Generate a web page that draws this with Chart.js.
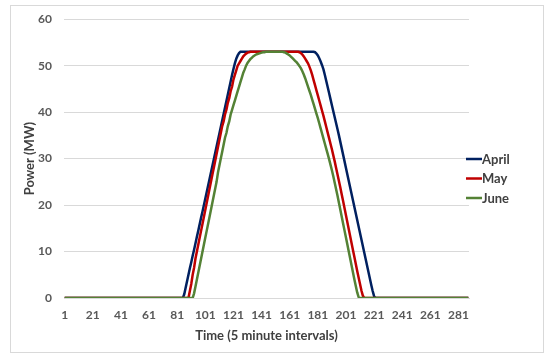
<!DOCTYPE html>
<html>
<head>
<meta charset="utf-8">
<script src="https://cdn.jsdelivr.net/npm/chart.js@4/dist/chart.umd.min.js"></script>
<style>
  html, body { margin: 0; padding: 0; background: #ffffff; }
  #frame { position: absolute; left: 10px; top: 5px; width: 532px; height: 346px; border: 1px solid #d9d9d9; }
  #grafico { position: absolute; left: 0; top: 0; }
</style>
</head>
<body>
<div id="frame"></div>
<canvas id="grafico" width="550" height="361"></canvas>
<script>
// --- DADOS ---
const seriesNames = ['April', 'May', 'June'];
const seriesColors = ['#002060', '#C00000', '#548235'];
const tickLabels = [1, 21, 41, 61, 81, 101, 121, 141, 161, 181, 201, 221, 241, 261, 281];

// intervalos de 5 minutos (1..288)
const intervals = [];
for (let i = 1; i <= 288; i++) intervals.push(i);

const april = [
  0,0,0,0,0,0,0,0,0,0, 0,0,0,0,0,0,0,0,0,0,
  0,0,0,0,0,0,0,0,0,0, 0,0,0,0,0,0,0,0,0,0,
  0,0,0,0,0,0,0,0,0,0, 0,0,0,0,0,0,0,0,0,0,
  0,0,0,0,0,0,0,0,0,0, 0,0,0,0,0,0,0,0,0,0,
  0,0,0,0,0,
  0.8, 2.2, 3.6, 5, 6.4, 7.7, 9.1, 10.4, 11.8, 13.2, 14.5, 15.9, 17.3, 18.6, 20, 21.4, 22.8, 24.2, 25.6, 27,
  28.4, 29.8, 31.2, 32.6, 34, 35.4, 36.8, 38.2, 39.6, 41, 42.4, 43.8, 45.2, 46.6, 48, 49.3, 50.5, 51.5, 52.2, 52.7,
  53,53,53,53,53,53,53,53,53,53, 53,53,53,53,53,53,53,53,53,53,
  53,53,53,53,53,53,53,53,53,53, 53,53,53,53,53,53,53,53,53,53,
  53,53,53,53,53,53,53,53,53,53, 53,53,53,
  52.9, 52.6, 52.2, 51.6, 50.9, 50.1, 49.2, 48, 46.7, 45.4, 44.1, 42.8, 41.5, 40.2, 38.9, 37.6, 36.3, 35, 33.6, 32.2,
  30.8, 29.4, 28, 26.6, 25.2, 23.8, 22.4, 21, 19.6, 18.2, 16.8, 15.4, 14, 12.6, 11.2, 9.8, 8.4, 7, 5.6, 4.2,
  2.8, 1.5, 0.4,
  0,0,0,0,0,0,0,0,0,0, 0,0,0,0,0,0,0,0,0,0,
  0,0,0,0,0,0,0,0,0,0, 0,0,0,0,0,0,0,0,0,0,
  0,0,0,0,0,0,0,0,0,0, 0,0,0,0,0,0,0,0,0,0,
  0,0,0,0,0,0,0
];

const may = [
  0,0,0,0,0,0,0,0,0,0, 0,0,0,0,0,0,0,0,0,0,
  0,0,0,0,0,0,0,0,0,0, 0,0,0,0,0,0,0,0,0,0,
  0,0,0,0,0,0,0,0,0,0, 0,0,0,0,0,0,0,0,0,0,
  0,0,0,0,0,0,0,0,0,0, 0,0,0,0,0,0,0,0,0,0,
  0,0,0,0,0,0,0,0,0,
  1.5, 3, 5, 6.5, 8.5, 10, 11.5, 13, 14.5, 16, 17.5, 19, 20.5, 22, 23.5, 25, 26.5, 28, 29.5, 31,
  32.5, 34, 35.5, 37, 38, 39.5, 40.5, 42, 43, 44.5, 45.5, 47, 48, 49, 50, 50.5, 51, 51.5, 52, 52.3,
  52.6, 52.8, 52.9,
  53,53,53,53,53,53,53,53,53,53, 53,53,53,53,53,53,53,53,53,53,
  53,53,53,53,53,53,53,53,53,53, 53,53,53,53,53,
  52.9, 52.7, 52.4, 52, 51.5, 51, 50.5, 49.8, 49, 48, 46.9, 45.8, 44.7, 43.6, 42.5, 41.4, 40.3, 39.2, 38, 36.8,
  35.6, 34.4, 33.2, 32, 30.7, 29.4, 28, 26.6, 25.2, 23.8, 22.3, 20.8, 19.3, 17.8, 16.3, 14.8, 13.3, 11.8, 10.3, 8.8,
  7.3, 5.8, 4.4, 3, 1.6, 0.5,
  0,0,0,0,0,0,0,0,0,0, 0,0,0,0,0,0,0,0,0,0,
  0,0,0,0,0,0,0,0,0,0, 0,0,0,0,0,0,0,0,0,0,
  0,0,0,0,0,0,0,0,0,0, 0,0,0,0,0,0,0,0,0,0,
  0,0,0,0,0,0,0,0,0,0, 0,0,0,0,0
];

const june = [
  0,0,0,0,0,0,0,0,0,0, 0,0,0,0,0,0,0,0,0,0,
  0,0,0,0,0,0,0,0,0,0, 0,0,0,0,0,0,0,0,0,0,
  0,0,0,0,0,0,0,0,0,0, 0,0,0,0,0,0,0,0,0,0,
  0,0,0,0,0,0,0,0,0,0, 0,0,0,0,0,0,0,0,0,0,
  0,0,0,0,0,0,0,0,0,0, 0,0,
  1, 2.5, 4, 5.5, 7, 8.5, 10, 11.5, 13, 14.5, 16, 17.5, 19, 20.5, 22, 23.5, 25, 27, 28.5, 30,
  31.5, 33, 34.5, 35.5, 37, 38, 39.5, 40.5, 41.5, 42.5, 43.5, 44.5, 45.5, 46.5, 47.5, 48.5, 49.2, 50, 50.6, 51,
  51.4, 51.7, 52, 52.2, 52.4, 52.5, 52.6, 52.7, 52.8, 52.9, 52.9,
  53,53,53,53,53,53,53,53,53,53, 53,53,53,
  52.9, 52.8, 52.6, 52.4, 52.2, 51.9, 51.6, 51.3, 51, 50.7, 50.3, 49.9, 49.4, 48.8, 48.1, 47.3, 46.4, 45.5, 44.6, 43.7,
  42.7, 41.7, 40.7, 39.7, 38.7, 37.6, 36.5, 35.4, 34.3, 33.2, 32.1, 31, 29.9, 28.7, 27.5, 26.2, 24.8, 23.4, 22, 20.5,
  19, 17.5, 16, 14.5, 13, 11.5, 10, 8.5, 7, 5.5, 4, 2.6, 1.2, 0.2,
  0,0,0,0,0,0,0,0,0,0, 0,0,0,0,0,0,0,0,0,0,
  0,0,0,0,0,0,0,0,0,0, 0,0,0,0,0,0,0,0,0,0,
  0,0,0,0,0,0,0,0,0,0, 0,0,0,0,0,0,0,0,0,0,
  0,0,0,0,0,0,0,0,0,0, 0,0,0,0,0,0,0,0
];

const seriesValues = [april, may, june];
seriesValues.forEach((s, i) => {
  if (s.length !== intervals.length) throw new Error(seriesNames[i] + ' has ' + s.length + ' points');
});

const FONT = 'Lato, "Open Sans", sans-serif';

// legenda desenhada à direita, como no Excel
const legendaDireita = {
  id: 'legendaDireita',
  afterDraw(chart) {
    const ctx = chart.ctx;
    ctx.save();
    ctx.font = 'bold 13px ' + FONT;
    ctx.textBaseline = 'middle';
    ctx.textAlign = 'left';
    chart.data.datasets.forEach((ds, i) => {
      const y = 159 + i * 19.5;
      ctx.strokeStyle = ds.borderColor;
      ctx.lineWidth = 2.5;
      ctx.beginPath();
      ctx.moveTo(466, y);
      ctx.lineTo(482, y);
      ctx.stroke();
      ctx.fillStyle = '#404040';
      ctx.fillText(ds.label, 482, y + 0.5);
    });
    ctx.restore();
  }
};

new Chart(document.getElementById('grafico'), {
  type: 'line',
  data: {
    labels: intervals,
    datasets: seriesNames.map((name, i) => ({
      label: name,
      data: seriesValues[i],
      borderColor: seriesColors[i],
      backgroundColor: seriesColors[i],
      borderWidth: 2.5,
      pointRadius: 0,
      tension: 0,
      fill: false,
      order: 2 - i
    }))
  },
  options: {
    responsive: false,
    animation: false,
    layout: { padding: { left: 18, top: 17, right: 81, bottom: 13 } },
    plugins: {
      legend: { display: false },
      tooltip: { enabled: false }
    },
    scales: {
      x: {
        type: 'category',
        offset: true,
        grid: { display: false, drawTicks: false },
        border: { display: true, color: '#d9d9d9', width: 1 },
        ticks: {
          autoSkip: false,
          maxRotation: 0,
          padding: 10,
          color: '#595959',
          font: { family: FONT, size: 12, weight: 'bold' },
          callback: function (value) {
            const lab = Number(this.getLabelForValue(value));
            return tickLabels.includes(lab) ? String(lab) : null;
          }
        },
        title: {
          display: true,
          text: 'Time (5 minute intervals)',
          color: '#404040',
          font: { family: FONT, size: 13, weight: 'bold' },
          padding: { top: 4, bottom: 4 }
        },
        afterFit(scale) { scale.height = 50; }
      },
      y: {
        min: 0,
        max: 60,
        grid: { color: '#d9d9d9', lineWidth: 1, drawTicks: false },
        border: { display: false },
        ticks: {
          stepSize: 10,
          padding: 12,
          color: '#595959',
          font: { family: FONT, size: 12, weight: 'bold' }
        },
        title: {
          display: true,
          text: 'Power (MW)',
          color: '#404040',
          font: { family: FONT, size: 13, weight: 'bold' },
          padding: { top: 4, bottom: 4 }
        },
        afterFit(scale) { scale.width = 46; }
      }
    }
  },
  plugins: [legendaDireita]
});
</script>
</body>
</html>
